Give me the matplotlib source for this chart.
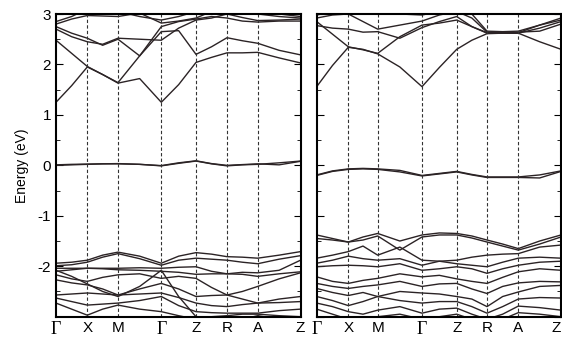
import matplotlib
matplotlib.use("Agg")
import matplotlib.pyplot as plt
from matplotlib.ticker import MultipleLocator
import numpy as np

# high-symmetry labels and positions along the path (both panels)
klabels = ["Γ", "X", "M", "Γ", "Z", "R", "A", "Z"]
kpos_left = [0, 31.3, 62, 105.3, 140, 171, 201.7, 244.5]
kpos_right = [0, 31.6, 61, 105.3, 140, 170.3, 201.6, 244.3]

# band energies (eV) at Γ, mid, X, mid, M, mid, Γ, mid, Z, mid, R, mid, A, mid, Z
left_cond = [
    [1.25, 1.58, 1.95, 1.80, 1.63, 1.72, 1.25, 1.60, 2.04, 2.14, 2.23, 2.23, 2.24, 2.13, 2.03],
    [2.48, 2.22, 1.96, 1.80, 1.64, 2.17, 2.65, 2.67, 2.20, 2.35, 2.53, 2.47, 2.42, 2.28, 2.19],
    [2.70, 2.55, 2.45, 2.40, 2.52, 2.50, 2.48, 2.72, 2.88, 2.92, 3.00, 2.93, 2.87, 2.88, 2.90],
    [2.75, 2.62, 2.52, 2.38, 2.50, 2.17, 2.75, 2.85, 2.90, 2.95, 2.92, 2.86, 2.84, 2.86, 2.86],
    [2.80, 2.90, 2.97, 2.96, 2.95, 3.02, 2.82, 2.86, 2.92, 3.05, 3.10, 3.05, 3.00, 2.95, 2.92],
    [2.85, 2.95, 3.10, 3.10, 3.05, 2.95, 2.88, 2.95, 3.05, 3.10, 3.10, 3.10, 3.10, 3.00, 2.95],
]
left_flat = [
    [0.00, 0.01, 0.02, 0.03, 0.03, 0.02, -0.01, 0.04, 0.085, 0.03, -0.01, 0.01, 0.02, 0.05, 0.085],
    [0.01, 0.02, 0.025, 0.03, 0.035, 0.02, -0.005, 0.05, 0.09, 0.035, 0.00, 0.015, 0.03, 0.01, 0.08],
]
left_val = [
    [-1.94, -1.92, -1.88, -1.78, -1.72, -1.80, -1.94, -1.80, -1.73, -1.76, -1.81, -1.82, -1.84, -1.78, -1.71],
    [-1.99, -1.97, -1.92, -1.82, -1.75, -1.85, -1.98, -1.88, -1.84, -1.86, -1.88, -1.92, -1.95, -1.86, -1.79],
    [-2.04, -2.04, -2.04, -2.04, -2.04, -2.03, -2.04, -2.02, -2.01, -2.10, -2.15, -2.12, -2.13, -2.08, -1.88],
    [-2.10, -2.07, -2.04, -2.05, -2.07, -2.08, -2.10, -2.12, -2.16, -2.15, -2.15, -2.16, -2.20, -2.15, -2.11],
    [-2.17, -2.25, -2.30, -2.22, -2.17, -2.15, -2.24, -2.20, -2.24, -2.42, -2.57, -2.50, -2.40, -2.25, -2.13],
    [-2.27, -2.33, -2.37, -2.45, -2.57, -2.45, -2.34, -2.45, -2.60, -2.58, -2.57, -2.65, -2.73, -2.65, -2.60],
    [-2.57, -2.55, -2.53, -2.55, -2.57, -2.55, -2.53, -2.62, -2.73, -2.78, -2.80, -2.76, -2.73, -2.72, -2.70],
    [-2.63, -2.70, -2.77, -2.75, -2.73, -2.68, -2.60, -2.78, -2.90, -2.92, -2.93, -2.93, -2.93, -2.88, -2.85],
    [-2.73, -2.85, -2.97, -2.85, -2.77, -2.85, -2.90, -2.98, -3.05, -3.00, -2.98, -2.95, -2.95, -2.98, -3.00],
    [-2.08, -2.20, -2.35, -2.50, -2.60, -2.40, -2.08, -2.60, -3.00, -3.10, -3.10, -3.05, -2.98, -3.05, -3.10],
]

right_cond = [
    [1.56, 1.98, 2.34, 2.30, 2.21, 1.95, 1.56, 1.94, 2.30, 2.48, 2.61, 2.62, 2.62, 2.45, 2.30],
    [2.85, 2.60, 2.35, 2.29, 2.22, 2.55, 2.78, 2.82, 2.88, 2.75, 2.63, 2.63, 2.63, 2.78, 2.92],
    [2.77, 2.72, 2.70, 2.64, 2.65, 2.52, 2.73, 2.85, 2.95, 2.75, 2.62, 2.62, 2.62, 2.72, 2.85],
    [2.92, 2.98, 3.00, 2.85, 2.70, 2.78, 2.86, 2.98, 3.05, 2.92, 2.64, 2.63, 2.64, 2.66, 2.80],
    [2.98, 3.05, 3.10, 3.05, 3.00, 3.00, 2.98, 3.05, 3.08, 3.00, 2.66, 2.65, 2.66, 2.78, 2.88],
]
right_flat = [
    [-0.20, -0.12, -0.08, -0.07, -0.08, -0.13, -0.21, -0.17, -0.13, -0.19, -0.24, -0.24, -0.24, -0.25, -0.12],
    [-0.19, -0.11, -0.07, -0.06, -0.07, -0.10, -0.20, -0.16, -0.12, -0.18, -0.23, -0.23, -0.23, -0.19, -0.11],
]
right_val = [
    [-1.38, -1.45, -1.52, -1.42, -1.35, -1.50, -1.38, -1.34, -1.35, -1.40, -1.48, -1.56, -1.65, -1.50, -1.38],
    [-1.45, -1.48, -1.52, -1.48, -1.40, -1.68, -1.42, -1.38, -1.38, -1.44, -1.52, -1.60, -1.68, -1.56, -1.42],
    [-1.84, -1.78, -1.71, -1.60, -1.78, -1.62, -1.88, -1.90, -1.88, -1.82, -1.78, -1.76, -1.75, -1.62, -1.58],
    [-1.94, -1.88, -1.80, -1.85, -1.88, -1.85, -1.98, -1.90, -1.95, -1.98, -2.01, -1.92, -1.84, -1.82, -1.84],
    [-2.01, -1.99, -1.98, -1.99, -2.01, -1.95, -2.08, -2.05, -2.01, -2.05, -2.14, -2.05, -1.98, -1.92, -1.90],
    [-2.21, -2.30, -2.34, -2.28, -2.24, -2.15, -2.21, -2.18, -2.25, -2.30, -2.34, -2.22, -2.11, -2.05, -2.08],
    [-2.34, -2.40, -2.44, -2.40, -2.37, -2.30, -2.40, -2.35, -2.34, -2.45, -2.54, -2.40, -2.33, -2.30, -2.31],
    [-2.44, -2.52, -2.58, -2.52, -2.60, -2.50, -2.53, -2.55, -2.60, -2.65, -2.80, -2.60, -2.51, -2.40, -2.38],
    [-2.60, -2.68, -2.78, -2.70, -2.60, -2.68, -2.73, -2.70, -2.70, -2.80, -2.93, -2.80, -2.65, -2.62, -2.63],
    [-2.73, -2.80, -2.90, -2.95, -2.87, -2.80, -2.93, -2.85, -2.83, -2.95, -3.05, -2.95, -2.79, -2.82, -2.87],
    [-2.85, -2.95, -3.05, -3.05, -3.00, -2.95, -3.05, -3.00, -2.95, -3.05, -3.10, -3.05, -2.92, -2.95, -3.00],
]

plt.rcParams["font.family"] = ["Liberation Sans", "DejaVu Sans"]

fig = plt.figure(figsize=(5.62, 3.38), dpi=100)
ax1 = fig.add_axes([56 / 562, 1 - 316.7 / 338, 244.5 / 562, 302.7 / 338])
ax2 = fig.add_axes([316.7 / 562, 1 - 316.7 / 338, 244.3 / 562, 302.7 / 338])

band_color = "#2b2325"


def kgrid(kpos):
    # high-symmetry points with the midpoints of each segment
    kpos = np.array(kpos, dtype=float)
    mids = (kpos[:-1] + kpos[1:]) / 2
    grid = np.empty(len(kpos) + len(mids))
    grid[0::2] = kpos
    grid[1::2] = mids
    return grid


def draw_panel(ax, kpos, bands, show_ylabels):
    k = kgrid(kpos)
    for band in bands:
        ax.plot(k, band, color=band_color, lw=1.0, solid_joinstyle="round")
    for x in kpos[1:-1]:
        ax.axvline(x, color="#333333", lw=0.8, ls=(0, (3, 2)))
    ax.set_xlim(kpos[0], kpos[-1])
    ax.set_ylim(-3, 3)
    ax.set_xticks(kpos)
    ax.set_xticklabels(klabels, fontsize=11)
    for lab in ax.get_xticklabels():
        if lab.get_text() == "Γ":
            lab.set_fontfamily("Liberation Serif")
            lab.set_fontsize(13)
    ax.tick_params(axis="x", length=0, pad=3)
    ax.yaxis.set_major_locator(MultipleLocator(1))
    ax.yaxis.set_minor_locator(MultipleLocator(0.5))
    ax.tick_params(axis="y", which="both", direction="in", left=True, right=True)
    ax.tick_params(axis="y", which="major", length=5, labelsize=11)
    ax.tick_params(axis="y", which="minor", length=3)
    for s in ax.spines.values():
        s.set_linewidth(1.5)
    if show_ylabels:
        ax.set_yticks([-2, -1, 0, 1, 2, 3])
        ax.set_yticklabels(["-2", "-1", "0", "1", "2", "3"])
        ax.set_ylabel("Energy (eV)", fontsize=10, labelpad=6)
    else:
        ax.set_yticklabels([])


draw_panel(ax1, kpos_left, left_cond + left_flat + left_val, True)
draw_panel(ax2, kpos_right, right_cond + right_flat + right_val, False)

# keep the last Z of the right panel inside the figure
ax2.get_xticklabels()[-1].set_horizontalalignment("right")

fig.savefig("out.png", dpi=100)
